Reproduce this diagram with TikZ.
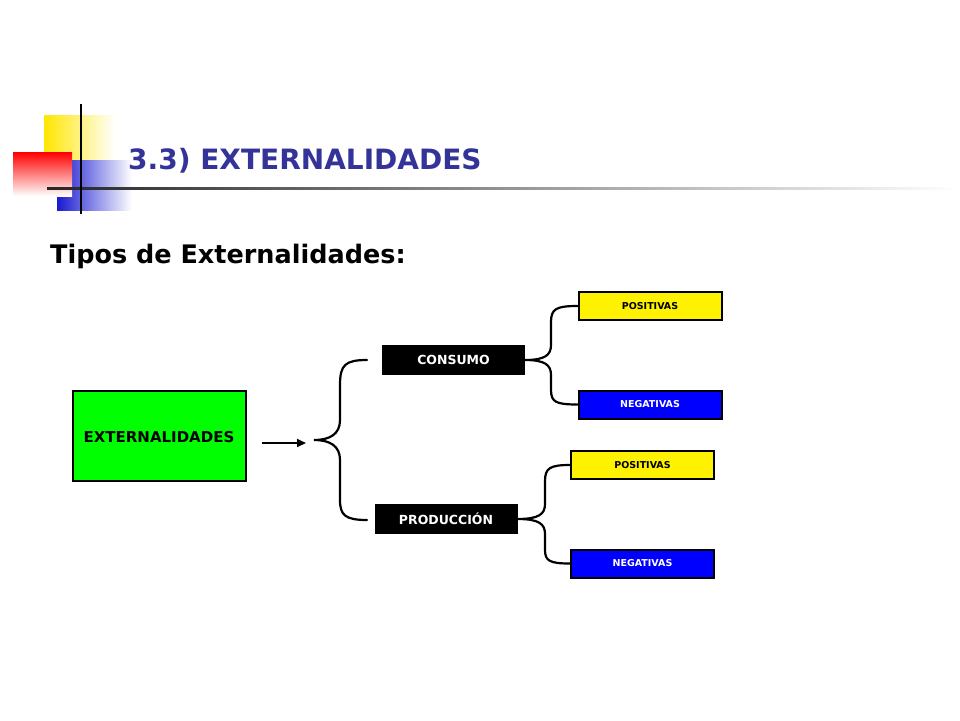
\documentclass[tikz,border=0pt]{standalone}
\usepackage{fontspec}
\setmainfont{DejaVu Sans}
\usetikzlibrary{arrows.meta}
\begin{document}
\begin{tikzpicture}[x=1pt,y=-1pt,
  box/.style={draw=black,line width=2pt,minimum width=143pt,minimum height=28pt,inner sep=0pt,font=\bfseries\fontsize{9.5}{11}\selectfont},
  blk/.style={fill=black,text=white,minimum width=143pt,minimum height=30pt,inner sep=0pt,font=\bfseries\fontsize{12.5}{14}\selectfont},
  brace/.style={line width=2.2pt,line cap=round}]
\useasboundingbox (0,0) rectangle (960,720);
% logo
\shade[left color=yellow!80!orange,right color=white] (44,115) rectangle (115,160);
\shade[left color=blue!80!black!90,right color=white] (57,160) rectangle (132,210);
\shade[shading angle=45,top color=red,bottom color=white] (13,152) rectangle (72,196);
\shade[left color=black!85,right color=white] (47,187) rectangle (960,189.5);
\draw[line width=2pt] (81,104) -- (81,214);
\node[anchor=west,text={rgb,255:red,51;green,51;blue,153},font=\bfseries\fontsize{28}{32}\selectfont,inner sep=0pt] (t) at (128,161) {3.3) EXTERNALIDADES};
\node[anchor=west,font=\bfseries\fontsize{25.5}{29}\selectfont,inner sep=0pt] (s) at (50,256) {Tipos de Externalidades:};
\node[draw=black,line width=2pt,fill={rgb,255:red,0;green,255;blue,0},minimum width=173pt,minimum height=90pt,inner sep=0pt] (ext) at (159,436) {};
\node[font=\bfseries\fontsize{15}{17}\selectfont,inner sep=0pt] (extl) at (159,437) {EXTERNALIDADES};
\coordinate (a0) at (262,443);
\coordinate (a1) at (306,443);
\draw[line width=2pt,-{Triangle[length=9pt,width=8pt]}] (a0) -- (a1);
\node[blk] (con) at (453.5,360) {CONSUMO};
\node[blk] (pro) at (446,519) {PRODUCCIÓN};
\node[box,fill=yellow] (p1) at (650,306) {POSITIVAS};
\node[box,fill=blue,text=white] (n1) at (650,404.5) {NEGATIVAS};
\node[box,fill=yellow] (p2) at (642.5,465) {POSITIVAS};
\node[box,fill=blue,text=white] (n2) at (642.5,563.5) {NEGATIVAS};
% big brace
\coordinate (bt) at (314,440);
\draw[brace] (367,360) .. controls (345,360) and (340,365) .. (340,385) -- (340,420) .. controls (340,434) and (330,440) .. (bt)
  .. controls (330,440) and (340,446) .. (340,460) -- (340,500) .. controls (340,515) and (345,520) .. (367,520);
% small braces
\draw[brace] (p1.west) .. controls (556,306) and (551,309) .. (551,322) -- (551,345) .. controls (551,355) and (545,360) .. (con.east)
  .. controls (545,360) and (551,365) .. (551,375) -- (551,390) .. controls (551,402) and (556,404.5) .. (n1.west);
\draw[brace] (p2.west) .. controls (550,465) and (545,468) .. (545,481) -- (545,504) .. controls (545,514) and (539,519) .. (pro.east)
  .. controls (539,519) and (545,524) .. (545,534) -- (545,550) .. controls (545,561) and (550,563.5) .. (n2.west);
\end{tikzpicture}
\end{document}
